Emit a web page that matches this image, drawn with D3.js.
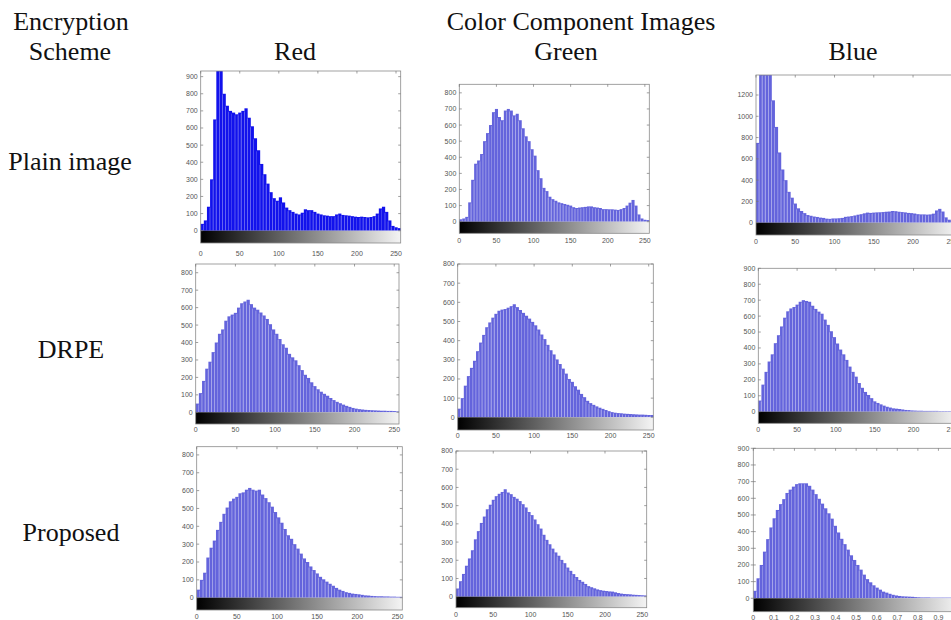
<!DOCTYPE html>
<html>
<head>
<meta charset="utf-8">
<script src="https://cdn.jsdelivr.net/npm/d3@7"></script>
<style>
  body { margin: 0; background: #fff; }
  .head { font-family: "Liberation Serif", "Times New Roman", serif; font-size: 26px; fill: #111; }
  .tick-label { font-family: "Liberation Sans", Arial, sans-serif; font-size: 7px; fill: #555; }
</style>
</head>
<body>
<div id="chart"></div>
<script>

const width = 951,
height = 620;

// header text
const rowLabels = ["Plain image", "DRPE", "Proposed"];
const columnLabels = ["Red", "Green", "Blue"];

// tick labels
const levelTicks = [0, 50, 100, 150, 200, 250];
const fracTicks = [0, 0.1, 0.2, 0.3, 0.4, 0.5, 0.6, 0.7, 0.8, 0.9];
const ticks800 = [0, 100, 200, 300, 400, 500, 600, 700, 800];
const ticks900 = [0, 100, 200, 300, 400, 500, 600, 700, 800, 900];
const ticks1200 = [0, 200, 400, 600, 800, 1000, 1200];

// histogram counts, 64 bins of 4 grey levels each
const redPlain = [40, 60, 140, 300, 650, 980, 950, 800, 730, 700, 690, 680, 690, 700, 715, 660,
  610, 540, 470, 390, 330, 275, 225, 190, 175, 195, 165, 135, 120, 110, 100, 95,
  105, 125, 120, 120, 110, 100, 95, 90, 88, 85, 85, 95, 100, 92, 90, 88,
  85, 82, 80, 82, 80, 78, 80, 85, 100, 130, 140, 110, 60, 28, 20, 15];
const greenPlain = [15, 20, 30, 120, 260, 360, 380, 420, 500, 550, 600, 680, 700, 650, 630, 690,
  700, 690, 660, 670, 630, 580, 530, 500, 450, 410, 320, 270, 210, 190, 155, 140,
  130, 120, 115, 110, 105, 100, 90, 85, 88, 90, 92, 95, 95, 90, 88, 85,
  78, 78, 77, 77, 75, 73, 78, 85, 100, 118, 135, 100, 45, 20, 12, 10];
const bluePlain = [750, 1450, 1500, 1500, 1450, 1150, 900, 660, 500, 400, 290, 235, 180, 135, 110, 90,
  72, 65, 58, 54, 48, 45, 38, 36, 40, 40, 42, 45, 55, 58, 62, 68,
  75, 80, 88, 95, 92, 95, 97, 98, 100, 103, 105, 110, 108, 103, 100, 97,
  92, 90, 86, 80, 78, 78, 76, 78, 85, 115, 130, 105, 50, 28, 15, 10];

const redDrpe = [50, 110, 180, 250, 290, 345, 400, 450, 475, 525, 550, 560, 570, 600, 625, 635,
  645, 620, 600, 588, 572, 555, 535, 505, 475, 450, 420, 390, 370, 335, 315, 298,
  270, 242, 215, 197, 172, 150, 132, 118, 106, 95, 82, 70, 60, 52, 44, 37,
  31, 25, 21, 18, 16, 14, 13, 12, 11, 10, 9, 9, 8, 8, 7, 5];
const greenDrpe = [45, 100, 165, 215, 258, 295, 345, 390, 430, 470, 495, 520, 540, 556, 562, 565,
  572, 580, 590, 575, 560, 545, 530, 515, 498, 480, 458, 432, 408, 378, 350, 328,
  302, 278, 254, 228, 200, 185, 162, 144, 122, 105, 86, 74, 65, 57, 50, 44,
  38, 32, 27, 24, 22, 21, 19, 18, 17, 16, 15, 14, 14, 13, 12, 12];
const blueDrpe = [70, 170, 250, 315, 360, 430, 480, 535, 590, 630, 648, 657, 672, 690, 700, 695,
  690, 665, 645, 628, 615, 578, 545, 505, 468, 428, 390, 360, 325, 283, 250, 220,
  180, 150, 124, 105, 85, 65, 55, 46, 38, 31, 26, 21, 19, 17, 14, 11,
  10, 8, 7, 6, 6, 5, 5, 5, 5, 5, 4, 4, 4, 4, 4, 4];

const redProposed = [45, 100, 140, 225, 280, 320, 380, 425, 470, 505, 540, 555, 565, 585, 590, 605,
  615, 605, 600, 605, 578, 558, 535, 510, 480, 450, 420, 385, 350, 330, 300, 275,
  247, 220, 200, 175, 155, 136, 117, 103, 90, 78, 67, 55, 45, 38, 31, 27,
  23, 21, 19, 16, 13, 12, 10, 9, 8, 8, 7, 7, 6, 6, 5, 5];
const greenProposed = [45, 85, 125, 170, 210, 255, 315, 360, 405, 440, 480, 505, 532, 552, 565, 575,
  590, 572, 563, 548, 538, 525, 508, 490, 465, 448, 424, 398, 374, 340, 312, 288,
  264, 243, 225, 202, 184, 160, 142, 124, 108, 92, 82, 70, 58, 52, 46, 40,
  36, 33, 31, 29, 28, 24, 20, 17, 15, 14, 13, 11, 10, 9, 8, 7];
const blueProposed = [45, 120, 200, 280, 355, 425, 480, 530, 565, 595, 632, 652, 670, 685, 690, 690,
  690, 675, 652, 625, 597, 568, 540, 510, 478, 435, 395, 357, 325, 292, 258, 230,
  200, 172, 142, 115, 96, 78, 64, 52, 40, 34, 27, 21, 17, 14, 12, 11,
  10, 9, 7, 6, 5, 5, 5, 4, 4, 4, 4, 4, 4, 4, 4, 4];

const deepBlue = "#1212ec";
const softBlue = "#6464dc";

// where each histogram sits on the page
const panels = [
  { data: redPlain, left: 200.7, right: 400.7, top: 71, zero: 230.7, yMax: 933, barBottom: 243, labelY: 254, yTicks: ticks900, color: deepBlue, gap: "#c4c4f8" },
  { data: greenPlain, left: 459.3, right: 649.3, top: 84.3, zero: 221.7, yMax: 853, barBottom: 233.3, labelY: 241, yTicks: ticks800, color: softBlue, gap: "#ffffff" },
  { data: bluePlain, left: 756, right: 957, top: 75, zero: 222.7, yMax: 1388, barBottom: 235, labelY: 242, yTicks: ticks1200, color: softBlue, gap: "#ffffff" },
  { data: redDrpe, left: 195.7, right: 399, top: 264, zero: 412.3, yMax: 850, barBottom: 424, labelY: 430, yTicks: ticks800, color: softBlue, gap: "#ffffff" },
  { data: greenDrpe, left: 457.7, right: 653.3, top: 264, zero: 417.3, yMax: 800, barBottom: 430, labelY: 436, yTicks: ticks800, color: softBlue, gap: "#ffffff" },
  { data: blueDrpe, left: 758.3, right: 957, top: 268.3, zero: 411.7, yMax: 900, barBottom: 423.3, labelY: 430, yTicks: ticks900, color: softBlue, gap: "#ffffff" },
  { data: redProposed, left: 196.7, right: 402.3, top: 446.7, zero: 597.7, yMax: 846, barBottom: 610, labelY: 617, yTicks: ticks800, color: softBlue, gap: "#ffffff" },
  { data: greenProposed, left: 456, right: 646.7, top: 451, zero: 596.7, yMax: 800, barBottom: 607.7, labelY: 615, yTicks: ticks800, color: softBlue, gap: "#ffffff" },
  { data: blueProposed, left: 753.3, right: 959, top: 448.3, zero: 598.3, yMax: 900, barBottom: 611.7, labelY: 618, yTicks: ticks900, color: softBlue, gap: "#ffffff", frac: true }
];

const svg = d3.select("#chart")
  .append("svg")
  .attr("width", width)
  .attr("height", height);

const defs = svg.append("defs");
defs.append("linearGradient")
  .attr("id", "grey")
  .selectAll("stop")
  .data([["0%", "#000"], ["100%", "#f4f4f4"]])
  .join("stop")
  .attr("offset", d => d[0])
  .attr("stop-color", d => d[1]);

// headings
const heads = [
  { text: "Encryption", x: 71, y: 30 },
  { text: "Scheme", x: 70, y: 60 },
  { text: "Color Component Images", x: 581, y: 30 },
  { text: columnLabels[0], x: 295, y: 60 },
  { text: columnLabels[1], x: 566, y: 60 },
  { text: columnLabels[2], x: 853, y: 60 },
  { text: rowLabels[0], x: 70, y: 170 },
  { text: rowLabels[1], x: 71, y: 358 },
  { text: rowLabels[2], x: 71, y: 541 }
];
svg.selectAll("text.head")
  .data(heads)
  .join("text")
  .attr("class", "head")
  .attr("x", d => d.x)
  .attr("y", d => d.y)
  .attr("text-anchor", "middle")
  .text(d => d.text);

panels.forEach(p => drawPanel(p));

function drawPanel(p) {
  const xMax = p.frac ? 1 : 256;
  const xTicks = p.frac ? fracTicks : levelTicks;
  const xScale = d3.scaleLinear().domain([0, xMax]).range([p.left, p.right]);
  const yScale = d3.scaleLinear().domain([0, p.yMax]).range([p.zero, p.top]).clamp(true);
  const binW = xMax / p.data.length;

  const g = svg.append("g");

  // box background
  g.append("rect")
    .attr("x", p.left).attr("y", p.top)
    .attr("width", p.right - p.left).attr("height", p.barBottom - p.top)
    .attr("fill", "#fff");

  // bars
  g.selectAll("rect.bar")
    .data(p.data)
    .join("rect")
    .attr("class", "bar")
    .attr("x", (d, i) => xScale(i * binW))
    .attr("width", (d, i) => xScale((i + 1) * binW) - xScale(i * binW) + 0.1)
    .attr("y", d => yScale(d))
    .attr("height", d => p.zero - yScale(d))
    .attr("fill", p.color);

  // thin light stripes between bars, like the aliased stems of the scan
  g.selectAll("line.gap")
    .data(p.data)
    .join("line")
    .attr("class", "gap")
    .attr("x1", (d, i) => xScale((i + 1) * binW) - 0.2)
    .attr("x2", (d, i) => xScale((i + 1) * binW) - 0.2)
    .attr("y1", (d, i) => yScale(Math.min(d, p.data[i + 1] || 0)) + 1)
    .attr("y2", p.zero)
    .attr("stroke", p.gap)
    .attr("stroke-width", 0.45)
    .attr("opacity", 0.75);

  // grey ramp under the axis
  g.append("rect")
    .attr("x", p.left).attr("y", p.zero)
    .attr("width", p.right - p.left).attr("height", p.barBottom - p.zero)
    .attr("fill", "url(#grey)");

  // frame
  g.append("rect")
    .attr("x", p.left).attr("y", p.top)
    .attr("width", p.right - p.left).attr("height", p.barBottom - p.top)
    .attr("fill", "none")
    .attr("stroke", "#8a8a8a")
    .attr("stroke-width", 0.8);

  // ticks on the top edge
  g.selectAll("line.xt")
    .data(xTicks)
    .join("line")
    .attr("x1", d => xScale(d)).attr("x2", d => xScale(d))
    .attr("y1", p.top).attr("y2", p.top + 2.5)
    .attr("stroke", "#777").attr("stroke-width", 0.7);

  // ticks on the left and right edges
  g.selectAll("line.yl")
    .data(p.yTicks)
    .join("line")
    .attr("x1", p.frac ? p.left - 2.5 : p.left).attr("x2", p.left + 2.5)
    .attr("y1", d => yScale(d)).attr("y2", d => yScale(d))
    .attr("stroke", "#777").attr("stroke-width", 0.7);
  g.selectAll("line.yr")
    .data(p.yTicks)
    .join("line")
    .attr("x1", p.right - 2.5).attr("x2", p.right)
    .attr("y1", d => yScale(d)).attr("y2", d => yScale(d))
    .attr("stroke", "#777").attr("stroke-width", 0.7);

  // tick labels
  g.selectAll("text.yl")
    .data(p.yTicks)
    .join("text")
    .attr("class", "tick-label")
    .attr("x", p.left - (p.frac ? 4 : 3))
    .attr("y", d => yScale(d))
    .attr("dy", "0.35em")
    .attr("text-anchor", "end")
    .text(d => d);

  g.selectAll("text.xl")
    .data(xTicks)
    .join("text")
    .attr("class", "tick-label")
    .attr("x", d => xScale(d))
    .attr("y", p.labelY)
    .attr("dy", "0.35em")
    .attr("text-anchor", "middle")
    .text(d => d);
}

</script>
</body>
</html>
